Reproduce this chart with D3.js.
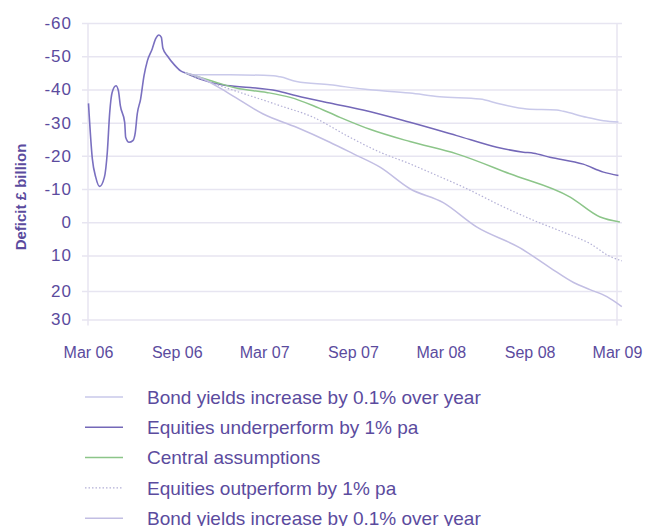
<!DOCTYPE html>
<html lang="en">
<head>
<meta charset="UTF-8" />
<title>Deficit scenarios</title>
<script src="https://d3js.org/d3.v7.min.js"></script>
<style>
  body { margin: 0; background: #fff; }
  svg text { font-family: "Liberation Sans", Arial, Helvetica, sans-serif; fill: #5b4b9e; }
</style>
</head>
<body>
<div id="chart"></div>
<script>
// Deficit in £ billion (negative = surplus, plotted upward)
const history = [
  ["2006-03-02", -35.8], ["2006-03-10", -19.1], ["2006-03-17", -13.6], ["2006-03-25", -10.8],
  ["2006-04-04", -13.6], ["2006-04-10", -21.1], ["2006-04-15", -33.1], ["2006-04-20", -39.1],
  ["2006-04-28", -41.1], ["2006-05-03", -39.6], ["2006-05-07", -35.1], ["2006-05-16", -30.1],
  ["2006-05-18", -25.6], ["2006-05-25", -24.1], ["2006-06-02", -24.6], ["2006-06-07", -27.1],
  ["2006-06-11", -32.6], ["2006-06-18", -37.1], ["2006-06-25", -44.1], ["2006-07-02", -48.6],
  ["2006-07-12", -52.2], ["2006-07-19", -55.2], ["2006-07-26", -56.4], ["2006-07-31", -55.7],
  ["2006-08-03", -52.5], ["2006-08-13", -50.0], ["2006-08-27", -47.4], ["2006-09-09", -45.6],
  ["2006-09-18", -45.0]
];

const bondUpper = [
  ["2006-09-18", -45.0], ["2006-10-05", -44.4], ["2006-12-20", -44.4], ["2007-03-20", -44.1],
  ["2007-04-03", -43.8], ["2007-05-07", -42.4], ["2007-07-15", -41.4], ["2007-09-22", -40.1],
  ["2007-12-28", -38.9], ["2008-02-28", -37.8], ["2008-05-21", -37.1], ["2008-07-02", -35.6],
  ["2008-08-26", -34.1], ["2008-10-27", -33.8], ["2008-11-10", -33.4], ["2008-12-28", -31.6],
  ["2009-02-01", -30.6], ["2009-03-04", -30.2]
];

const equitiesUnder = [
  ["2006-09-18", -45.0], ["2006-10-19", -43.1], ["2006-12-06", -41.3], ["2007-01-31", -40.6],
  ["2007-03-27", -39.6], ["2007-05-07", -38.1], ["2007-07-15", -35.9], ["2007-09-22", -33.8],
  ["2007-12-28", -30.1], ["2008-04-03", -26.1], ["2008-06-25", -22.6], ["2008-08-19", -21.1],
  ["2008-09-09", -20.8], ["2008-10-13", -19.6], ["2008-12-21", -17.5], ["2009-02-01", -15.1],
  ["2009-03-04", -14.1]
];

const central = [
  ["2006-09-18", -45.0], ["2006-11-16", -42.4], ["2007-01-02", -40.4], ["2007-03-06", -39.1],
  ["2007-04-24", -37.6], ["2007-06-11", -35.1], ["2007-08-05", -31.6], ["2007-10-06", -28.0],
  ["2007-12-28", -24.3], ["2008-04-03", -20.6], ["2008-07-22", -14.6], ["2008-11-24", -7.6],
  ["2009-01-25", -1.6], ["2009-03-07", -0.1]
];

const equitiesOut = [
  ["2006-09-18", -45.0], ["2006-10-19", -43.2], ["2006-12-20", -40.1], ["2007-04-03", -35.1],
  ["2007-06-11", -31.6], ["2007-08-19", -26.1], ["2007-10-27", -21.1], ["2007-12-28", -17.6],
  ["2008-02-14", -14.6], ["2008-04-24", -10.1], ["2008-07-02", -5.1], ["2008-09-09", -0.6],
  ["2008-11-17", 3.4], ["2009-01-04", 6.4], ["2009-02-15", 10.3], ["2009-03-11", 11.5]
];

const bondLower = [
  ["2006-09-18", -45.0], ["2006-10-19", -43.6], ["2006-12-20", -38.6], ["2007-02-27", -32.6],
  ["2007-05-07", -28.6], ["2007-07-15", -24.1], ["2007-09-02", -20.6], ["2007-10-27", -16.6],
  ["2007-12-28", -10.1], ["2008-03-06", -5.9], ["2008-05-14", 1.4], ["2008-08-12", 7.7],
  ["2008-10-13", 13.4], ["2008-12-01", 17.6], ["2009-01-04", 19.6], ["2009-02-08", 22.0],
  ["2009-03-11", 25.5]
];

const legendNames = [
  "Bond yields increase by 0.1% over year",
  "Equities underperform by 1% pa",
  "Central assumptions",
  "Equities outperform by 1% pa",
  "Bond yields increase by 0.1% over year"
];

const yTicks = [-60, -50, -40, -30, -20, -10, 0, 10, 20, 30];
const xTickDates = ["2006-03-01", "2006-09-01", "2007-03-01", "2007-09-01", "2008-03-01", "2008-09-01", "2009-03-01"];

const parse = d3.timeParse("%Y-%m-%d");
const width = 645, height = 526;

const svg = d3.select("#chart").append("svg")
  .attr("width", width)
  .attr("height", height);

const x = d3.scaleTime()
  .domain([parse(xTickDates[0]), parse(xTickDates[xTickDates.length - 1])])
  .range([88, 617]);

// the printed axis squeezes the bottom of the scale a little
const y = d3.scaleLinear()
  .domain([-60, 10, 20, 30])
  .range([23, 255.5, 291, 319.5]);

// y axis with gridlines
const yAxis = svg.append("g")
  .attr("transform", "translate(82,0)")
  .call(d3.axisLeft(y).tickValues(yTicks).tickSize(-540).tickPadding(10).tickFormat((d) => String(d)));
yAxis.select(".domain").remove();
yAxis.selectAll(".tick line").attr("stroke", "#e7e5f1").attr("stroke-width", 1.5);
yAxis.selectAll(".tick text")
  .style("font-size", "17px")
  .style("letter-spacing", "1px")
  .attr("fill", "#5b4b9e");

// left and right frame lines
svg.selectAll(".vline")
  .data([xTickDates[0], xTickDates[xTickDates.length - 1]])
  .enter()
  .append("line")
  .attr("x1", (d) => x(parse(d)))
  .attr("x2", (d) => x(parse(d)))
  .attr("y1", y(-60))
  .attr("y2", y(30) + 6)
  .attr("stroke", "#e7e5f1")
  .attr("stroke-width", 1.5);

// x axis labels
const xAxis = svg.append("g")
  .attr("transform", "translate(0,336)")
  .call(d3.axisBottom(x).tickValues(xTickDates.map(parse)).tickSize(0).tickPadding(11)
    .tickFormat(d3.timeFormat("%b %y")));
xAxis.select(".domain").remove();
xAxis.selectAll(".tick text").style("font-size", "16px").attr("fill", "#5b4b9e");

// y title
svg.append("text")
  .attr("transform", "translate(26,197) rotate(-90)")
  .attr("text-anchor", "middle")
  .style("font-size", "15px")
  .style("font-weight", "bold")
  .text("Deficit £ billion");

const line = d3.line()
  .x((d) => x(parse(d[0])))
  .y((d) => y(d[1]))
  .curve(d3.curveMonotoneX);

const series = [
  { data: bondUpper, color: "#c9c9ea", width: 1.5, dash: null },
  { data: equitiesUnder, color: "#7468b8", width: 1.5, dash: null },
  { data: central, color: "#8cc589", width: 1.5, dash: null },
  { data: equitiesOut, color: "#b3b0d6", width: 1.2, dash: "1.5,2" },
  { data: bondLower, color: "#c2bee3", width: 1.5, dash: null }
];

svg.append("path")
  .attr("d", line(history))
  .attr("fill", "none")
  .attr("stroke", "#7a70c0")
  .attr("stroke-width", 1.6);

svg.selectAll(".scenario")
  .data(series)
  .enter()
  .append("path")
  .attr("class", "scenario")
  .attr("d", (d) => line(d.data))
  .attr("fill", "none")
  .attr("stroke", (d) => d.color)
  .attr("stroke-width", (d) => d.width)
  .attr("stroke-dasharray", (d) => d.dash);

// legend
const legend = svg.selectAll(".legend")
  .data(series)
  .enter()
  .append("g")
  .attr("class", "legend")
  .attr("transform", (d, i) => `translate(85,${397 + i * 30.3})`);

legend.append("line")
  .attr("x1", 0)
  .attr("x2", 38)
  .attr("stroke", (d) => d.color)
  .attr("stroke-width", (d) => d.width)
  .attr("stroke-dasharray", (d) => d.dash);

legend.append("text")
  .attr("x", 62)
  .attr("dy", "0.35em")
  .style("font-size", "19px")
  .text((d, i) => legendNames[i]);
</script>
</body>
</html>
